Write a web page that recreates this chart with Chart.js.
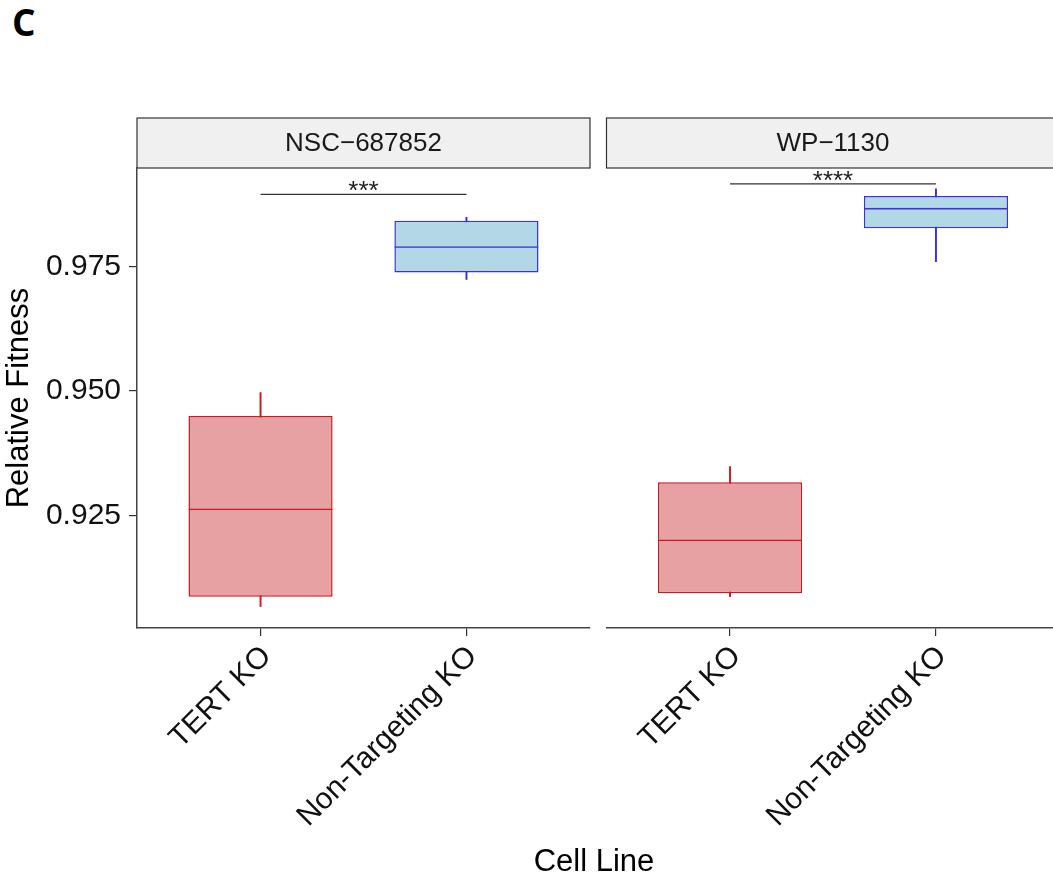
<!DOCTYPE html>
<html>
<head>
<meta charset="utf-8">
<script src="https://cdn.jsdelivr.net/npm/chart.js@4.4.0/dist/chart.umd.min.js"></script>
<style>
  html, body { margin: 0; padding: 0; background: #fff; overflow: hidden; }
  body { position: relative; width: 1053px; height: 881px; font-family: 'Liberation Sans', Arial, sans-serif; }
  canvas { position: absolute; top: 0; }
  #c1 { left: 0; }
  #c2 { left: 598px; }
  .tag { position: absolute; left: 12px; top: 3px; font: bold 37px/37px 'Open Sans', 'DejaVu Sans', sans-serif; color: #000; }
  .xtitle { position: absolute; left: 444px; width: 300px; top: 845px; text-align: center; font-size: 31px; line-height: 31px; color: #000; }
</style>
</head>
<body>
<div class="tag">C</div>
<canvas id="c1" width="598" height="881"></canvas>
<canvas id="c2" width="470" height="881"></canvas>
<div class="xtitle">Cell Line</div>
<script>
const groups = ['TERT KO', 'Non-Targeting KO'];
const panels = ['NSC\u2212687852', 'WP\u22121130'];

// box stats, one entry per group
const nscLow  = [0.9067, 0.9724];
const nscQ1   = [0.9087, 0.9738];
const nscMed  = [0.9264, 0.9791];
const nscQ3   = [0.9450, 0.9842];
const nscHigh = [0.9497, 0.9849];

const wpLow  = [0.9087, 0.9760];
const wpQ1   = [0.9094, 0.9827];
const wpMed  = [0.9202, 0.9868];
const wpQ3   = [0.9317, 0.9892];
const wpHigh = [0.9348, 0.9906];

// significance bracket level + label per panel
const sigY = [0.9895, 0.9916];
const sigText = ['***', '****'];

const yTicks = [0.925, 0.950, 0.975];
const yMin = 0.9024, yMax = 0.9948;

const fills = ['#E8A1A2', '#B2D8E8'];
const strokes = ['#CC1A1F', '#3B33D4'];

Chart.defaults.font.family = "'Liberation Sans', Arial, sans-serif";
Chart.defaults.animation = false;

const xs = groups.map((g, i) => i + 1);

const stripPlugin = {
  id: 'strip',
  beforeDraw(chart, args, opts) {
    const { ctx, chartArea: a } = chart;
    const top = 118;
    ctx.save();
    ctx.fillStyle = '#F0F0F0';
    ctx.fillRect(a.left, top, a.right - a.left, a.top - top);
    ctx.strokeStyle = '#333';
    ctx.lineWidth = 1.2;
    ctx.strokeRect(a.left, top, a.right - a.left, a.top - top);
    ctx.fillStyle = '#1A1A1A';
    ctx.font = "26px 'Liberation Sans', Arial, sans-serif";
    ctx.textAlign = 'center';
    ctx.textBaseline = 'middle';
    ctx.fillText(opts.text, (a.left + a.right) / 2, (top + a.top) / 2 + 1);
    ctx.restore();
  }
};

const sigPlugin = {
  id: 'sig',
  afterDatasetsDraw(chart, args, opts) {
    const meta = chart.getDatasetMeta(3);
    const p0 = meta.data[0], p1 = meta.data[1];
    const ctx = chart.ctx;
    ctx.save();
    ctx.fillStyle = '#222';
    ctx.font = "26px 'Liberation Sans', Arial, sans-serif";
    ctx.textAlign = 'center';
    ctx.textBaseline = 'alphabetic';
    ctx.fillText(opts.text, (p0.x + p1.x) / 2, p0.y + 5);
    ctx.restore();
  }
};

function makePanel(id, title, low, q1, med, q3, high, sig, sigLbl, first) {
  return new Chart(document.getElementById(id), {
    type: 'bar',
    data: {
      datasets: [
        { // whiskers
          data: xs.map((x, i) => ({ x: x, y: [low[i], high[i]] })),
          backgroundColor: strokes, borderWidth: 0, barThickness: 1.3,
          grouped: false, order: 3
        },
        { // boxes
          data: xs.map((x, i) => ({ x: x, y: [q1[i], q3[i]] })),
          backgroundColor: fills, borderColor: strokes, borderWidth: 1.5,
          borderSkipped: false, barPercentage: 0.7, categoryPercentage: 1,
          grouped: false, order: 2
        },
        { // medians (top edge of q1..median bar)
          data: xs.map((x, i) => ({ x: x, y: [q1[i], med[i]] })),
          backgroundColor: 'rgba(0,0,0,0)', borderColor: strokes,
          borderWidth: { top: 1.6, left: 0, right: 0, bottom: 0 },
          borderSkipped: false, barPercentage: 0.7, categoryPercentage: 1,
          grouped: false, order: 1
        },
        { // significance bracket
          type: 'line',
          data: xs.map(x => ({ x: x, y: sig })),
          borderColor: '#333', borderWidth: 1.2, pointRadius: 0, order: 0
        }
      ]
    },
    options: {
      responsive: false,
      devicePixelRatio: 1,
      layout: { padding: first ? { left: 0, top: 168, right: 8, bottom: 0 } : { left: 8.5, top: 168, right: 8.5, bottom: 0 } },
      plugins: {
        legend: { display: false },
        tooltip: { enabled: false },
        strip: { text: title },
        sig: { text: sigLbl }
      },
      scales: {
        x: {
          type: 'linear', min: 0.4, max: 2.6, offset: false,
          afterBuildTicks: s => { s.ticks = xs.map(v => ({ value: v })); },
          afterFit: s => { s.height = 253; },
          ticks: {
            autoSkip: false, minRotation: 45, maxRotation: 45,
            padding: 3, labelOffset: 6, color: '#111',
            font: { size: 30 },
            callback: (v, i) => groups[i]
          },
          grid: { offset: false, drawOnChartArea: false, drawTicks: true, tickLength: 8, color: '#333', lineWidth: 1.2 },
          border: { display: true, color: '#444', width: 1.5 }
        },
        y: {
          type: 'linear', min: yMin, max: yMax, display: first,
          afterBuildTicks: s => { s.ticks = yTicks.map(v => ({ value: v })); },
          afterFit: s => { s.width = first ? 137 : 0; },
          ticks: { color: '#111', font: { size: 30 }, padding: 8, callback: v => v.toFixed(3) },
          grid: { drawOnChartArea: false, tickLength: 8, color: '#333', lineWidth: 1.2 },
          border: { display: true, color: '#444', width: 1.5 },
          title: { display: true, text: 'Relative Fitness', color: '#000', font: { size: 31 }, padding: { top: 1, bottom: 0 } }
        }
      }
    },
    plugins: [stripPlugin, sigPlugin]
  });
}

makePanel('c1', panels[0], nscLow, nscQ1, nscMed, nscQ3, nscHigh, sigY[0], sigText[0], true);
makePanel('c2', panels[1], wpLow, wpQ1, wpMed, wpQ3, wpHigh, sigY[1], sigText[1], false);
</script>
</body>
</html>
